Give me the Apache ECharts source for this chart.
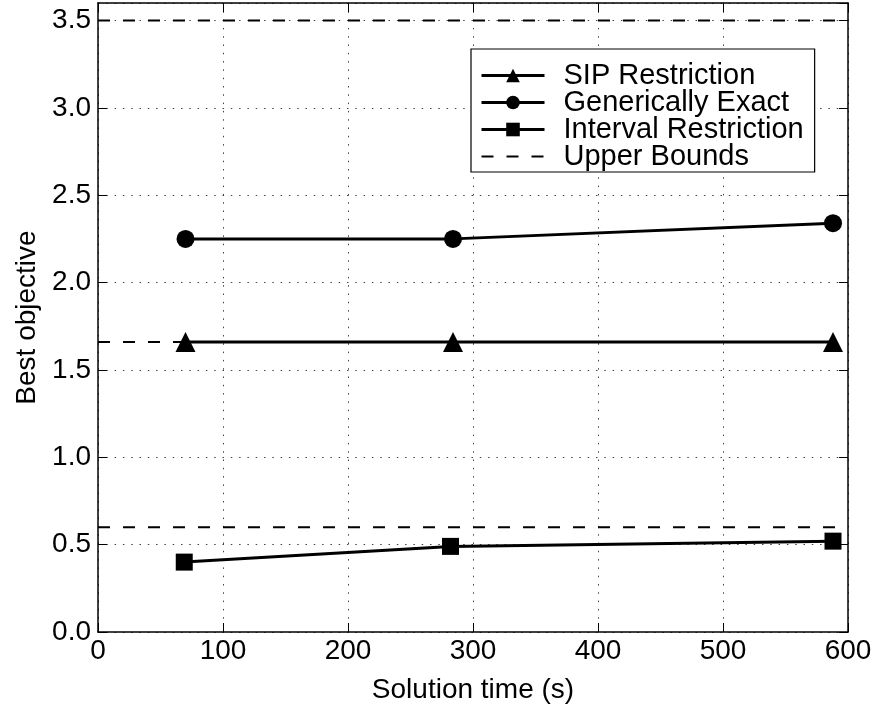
<!DOCTYPE html>
<html>
<head>
<meta charset="utf-8">
<script src="https://cdn.jsdelivr.net/npm/echarts@6/dist/echarts.min.js"></script>
<style>
html,body{margin:0;padding:0;background:#fff;}
#c{width:878px;height:713px;}
</style>
</head>
<body>
<div id="c"></div>
<script>
var xTicks = [0, 100, 200, 300, 400, 500, 600];
var yTicks = [0.0, 0.5, 1.0, 1.5, 2.0, 2.5, 3.0, 3.5];
var sipX = [70, 284, 588];
var sipY = [1.66, 1.66, 1.66];
var genericX = [70, 284, 588];
var genericY = [2.25, 2.25, 2.34];
var intervalX = [69, 282, 588];
var intervalY = [0.40, 0.49, 0.52];
var upperBounds = [3.5, 1.66, 0.60];
var boundRange = [0, 600];

function pairs(xs, ys) { return xs.map(function (x, i) { return [x, ys[i]]; }); }
var boundData = [];
upperBounds.forEach(function (v, i) {
  if (i > 0) boundData.push([boundRange[0], '-']);
  boundData.push([boundRange[0], v]);
  boundData.push([boundRange[1], v]);
});

var font = '"Liberation Sans", Arial, Helvetica, sans-serif';
var FS = 28;
var gridLine = { show: true, lineStyle: { color: '#444', width: 1, type: [1.5, 6.8] } };
var axisLineStyle = { show: true, onZero: false, lineStyle: { color: '#000', width: 1.5 } };
var tickStyle = { show: true, inside: true, length: 9, lineStyle: { color: '#000', width: 1 } };

var chart = echarts.init(document.getElementById('c'), null, { renderer: 'canvas' });
chart.setOption({
  animation: false,
  backgroundColor: '#fff',
  grid: { left: 98, right: 30, top: 3, bottom: 81, containLabel: false },
  xAxis: [{
    type: 'value', min: 0, max: 600, interval: 100,
    position: 'bottom',
    name: 'Solution time (s)', nameLocation: 'middle', nameGap: 44,
    nameTextStyle: { fontFamily: font, fontSize: FS, color: '#000' },
    axisLine: axisLineStyle,
    axisTick: tickStyle,
    axisLabel: { fontFamily: font, fontSize: FS, color: '#000', margin: 5,
      formatter: function (v) { return xTicks.indexOf(v) >= 0 ? String(v) : ''; } },
    splitLine: gridLine
  }, {
    type: 'value', min: 0, max: 600, interval: 100,
    position: 'top',
    axisLine: axisLineStyle,
    axisTick: tickStyle,
    axisLabel: { show: false },
    splitLine: { show: false }
  }],
  yAxis: [{
    type: 'value', min: 0, max: 3.6, interval: 0.5,
    position: 'left',
    name: 'Best objective', nameLocation: 'middle', nameGap: 57,
    nameTextStyle: { fontFamily: font, fontSize: FS, color: '#000' },
    axisLine: axisLineStyle,
    axisTick: tickStyle,
    axisLabel: { fontFamily: font, fontSize: FS, color: '#000', margin: 7, showMaxLabel: false,
      formatter: function (v) { return yTicks.indexOf(v) >= 0 ? v.toFixed(1) : ''; } },
    splitLine: gridLine
  }, {
    type: 'value', min: 0, max: 3.6, interval: 0.5,
    position: 'right',
    axisLine: axisLineStyle,
    axisTick: tickStyle,
    axisLabel: { show: false },
    splitLine: { show: false }
  }],
  legend: {
    orient: 'vertical',
    left: 471, top: 49,
    itemWidth: 63, itemHeight: 17, itemGap: -2,
    backgroundColor: '#fff',
    borderColor: '#000', borderWidth: 1.2,
    padding: [12, 11, 1, 9],
    lineStyle: { width: 3 },
    textStyle: { fontFamily: font, fontSize: 29, color: '#000', padding: [0, 0, 0, 14] },
    data: [
      { name: 'SIP Restriction' },
      { name: 'Generically Exact' },
      { name: 'Interval Restriction' },
      { name: 'Upper Bounds', lineStyle: { width: 2 },
        itemStyle: { color: 'rgba(0,0,0,0)', borderColor: 'rgba(0,0,0,0)', borderWidth: 0 } }
    ]
  },
  series: [{
    name: 'Upper Bounds', type: 'line', data: boundData, symbol: 'none', connectNulls: false,
    lineStyle: { color: '#000', width: 2, type: [12, 13] }, itemStyle: { color: '#000' }, z: 2
  }, {
    name: 'SIP Restriction', type: 'line', data: pairs(sipX, sipY),
    symbol: 'triangle', symbolSize: 20,
    lineStyle: { color: '#000', width: 3 }, itemStyle: { color: '#000' }, z: 3
  }, {
    name: 'Generically Exact', type: 'line', data: pairs(genericX, genericY),
    symbol: 'circle', symbolSize: 18,
    lineStyle: { color: '#000', width: 3 }, itemStyle: { color: '#000' }, z: 3
  }, {
    name: 'Interval Restriction', type: 'line', data: pairs(intervalX, intervalY),
    symbol: 'rect', symbolSize: 17,
    lineStyle: { color: '#000', width: 3 }, itemStyle: { color: '#000' }, z: 3
  }]
});
</script>
</body>
</html>
